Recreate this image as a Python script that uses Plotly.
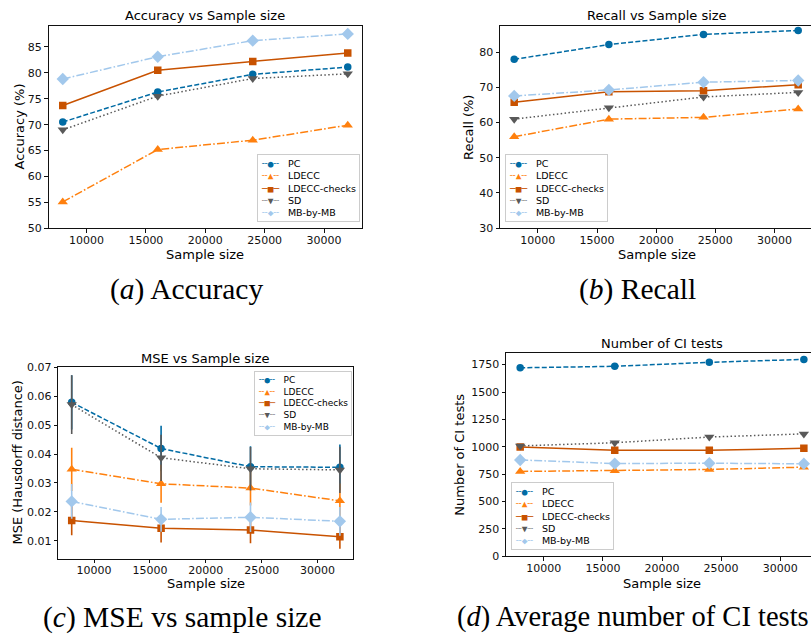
import plotly.graph_objects as go

W, H = 811, 643

# ── data ─────────────────────────────────────────────────────────────────────
SAMPLE_SIZES = [8000, 16000, 24000, 32000]
METHODS = ["PC", "LDECC", "LDECC-checks", "SD", "MB-by-MB"]

ACC_PC     = [70.5, 76.3, 79.7, 81.1]
ACC_LDECC  = [55.1, 65.2, 67.0, 69.9]
ACC_CHECKS = [73.7, 80.5, 82.2, 83.8]
ACC_SD     = [69.0, 75.5, 78.9, 79.8]
ACC_MB     = [78.8, 83.1, 86.2, 87.5]

REC_PC     = [78.0, 82.2, 85.1, 86.2]
REC_LDECC  = [56.0, 61.0, 61.5, 63.9]
REC_CHECKS = [65.8, 68.8, 69.1, 70.8]
REC_SD     = [61.0, 64.2, 67.3, 68.6]
REC_MB     = [67.6, 69.3, 71.5, 72.0]

MSE_PC     = [0.0579, 0.0419, 0.0356, 0.0354]
MSE_LDECC  = [0.0347, 0.0297, 0.0282, 0.0238]
MSE_CHECKS = [0.0170, 0.0143, 0.0137, 0.0114]
MSE_SD     = [0.0571, 0.0387, 0.0349, 0.0345]
MSE_MB     = [0.0236, 0.0174, 0.0181, 0.0167]

MSE_PC_STD     = [0.0094, 0.0079, 0.0071, 0.0079]
MSE_LDECC_STD  = [0.0075, 0.0066, 0.0060, 0.0060]
MSE_CHECKS_STD = [0.0051, 0.0049, 0.0046, 0.0042]
MSE_SD_STD     = [0.0102, 0.0080, 0.0075, 0.0080]
MSE_MB_STD     = [0.0060, 0.0043, 0.0051, 0.0050]

CI_PC     = [1721, 1735, 1771, 1798]
CI_LDECC  = [775, 782, 793, 814]
CI_CHECKS = [999, 968, 968, 986]
CI_SD     = [1008, 1037, 1089, 1118]
CI_MB     = [880, 847, 850, 845]

X_TICKS = [10000, 15000, 20000, 25000, 30000]

# ── styles ───────────────────────────────────────────────────────────────────
COLORS  = {"PC": "#006BA4", "LDECC": "#FF800E", "LDECC-checks": "#C85200",
           "SD": "#595959", "MB-by-MB": "#A2C8EC"}
DASHES  = {"PC": "5px,2.2px", "LDECC": "8px,2.2px,1.6px,2.2px", "LDECC-checks": "solid",
           "SD": "1.5px,2.4px", "MB-by-MB": "8px,2.2px,1.6px,2.2px"}
SYMBOLS = {"PC": ("circle", 7.5), "LDECC": ("triangle-up", 9), "LDECC-checks": ("square", 7.5),
           "SD": ("triangle-down", 9), "MB-by-MB": ("diamond", 9.5)}
# legend swatches, drawn as monospace text so every label lines up
HANDLES = {"PC": "╌●╌", "LDECC": "╌▲╌", "LDECC-checks": "─■─",
           "SD": "┈▼┈", "MB-by-MB": "╌◆╌"}

SANS = "DejaVu Sans"
MONO = "DejaVu Sans Mono"
SERIF = "Liberation Serif"
INK = "#111111"


def px(x):
    return x / W


def py(y):
    return 1 - y / H


# panel boxes in pixels: (left, right, top, bottom), plus axis ranges
PANELS = [
    dict(box=(48.5, 362, 20, 227), xr=[6800, 33200], yr=[50, 89.1],
         yt=[50, 55, 60, 65, 70, 75, 80, 85], fmt="d", full=True),
    dict(box=(500, 811, 20, 226.7), xr=[6800, 33083], yr=[30, 87.6],
         yt=[30, 40, 50, 60, 70, 80], fmt="d", full=False),
    dict(box=(58.3, 353.3, 368.5, 564), xr=[6800, 33200], yr=[0.0038, 0.0701],
         yt=[0.01, 0.02, 0.03, 0.04, 0.05, 0.06, 0.07], fmt=".2f", full=True),
    dict(box=(506, 811, 354.3, 561.7), xr=[6800, 32604], yr=[0, 1855],
         yt=[0, 250, 500, 750, 1000, 1250, 1500, 1750], fmt="d", full=False),
]

SERIES = [
    {"PC": ACC_PC, "LDECC": ACC_LDECC, "LDECC-checks": ACC_CHECKS, "SD": ACC_SD, "MB-by-MB": ACC_MB},
    {"PC": REC_PC, "LDECC": REC_LDECC, "LDECC-checks": REC_CHECKS, "SD": REC_SD, "MB-by-MB": REC_MB},
    {"PC": MSE_PC, "LDECC": MSE_LDECC, "LDECC-checks": MSE_CHECKS, "SD": MSE_SD, "MB-by-MB": MSE_MB},
    {"PC": CI_PC, "LDECC": CI_LDECC, "LDECC-checks": CI_CHECKS, "SD": CI_SD, "MB-by-MB": CI_MB},
]
MSE_STD = {"PC": MSE_PC_STD, "LDECC": MSE_LDECC_STD, "LDECC-checks": MSE_CHECKS_STD,
           "SD": MSE_SD_STD, "MB-by-MB": MSE_MB_STD}

fig = go.Figure()

for i, (panel, series) in enumerate(zip(PANELS, SERIES)):
    n = "" if i == 0 else str(i + 1)
    l, r, t, b = panel["box"]
    fig.update_layout({
        f"xaxis{n}": dict(
            domain=[px(l), px(r)], anchor=f"y{n}", range=panel["xr"],
            tickvals=X_TICKS, tickformat="d", showgrid=False, zeroline=False,
            showline=True, linecolor=INK, linewidth=1, mirror=True,
            ticks="outside", ticklen=3.5, tickcolor=INK, ticklabelstandoff=-2,
            tickfont=dict(family=SANS, size=11, color=INK),
        ),
        f"yaxis{n}": dict(
            domain=[py(b), py(t)], anchor=f"x{n}", range=panel["yr"],
            tickvals=panel["yt"], tickformat=panel["fmt"], showgrid=False, zeroline=False,
            showline=True, linecolor=INK, linewidth=1, mirror=panel["full"],
            ticks="outside", ticklen=3.5, tickcolor=INK,
            tickfont=dict(family=SANS, size=11, color=INK),
        ),
    })
    for m in METHODS:
        sym, size = SYMBOLS[m]
        err = None
        if i == 2:
            err = dict(type="data", array=MSE_STD[m], color=COLORS[m],
                       thickness=1.6, width=0)
        fig.add_trace(go.Scatter(
            x=SAMPLE_SIZES, y=series[m], name=m, mode="lines+markers",
            xaxis=f"x{n}", yaxis=f"y{n}", showlegend=False,
            line=dict(color=COLORS[m], width=1.5, dash=DASHES[m]),
            marker=dict(symbol=sym, size=size, color=COLORS[m], line=dict(width=0)),
            error_y=err,
        ))

# ── text: titles, axis labels, captions, legends ─────────────────────────────
notes = []


def note(text, x, y, size, family=SANS, angle=0, xanchor="center", yanchor="middle"):
    notes.append(dict(text=text, x=px(x), y=py(y), xref="paper", yref="paper",
                      showarrow=False, textangle=angle, xanchor=xanchor, yanchor=yanchor,
                      font=dict(family=family, size=size, color="#000000")))


note("Accuracy vs Sample size", 205, 10, 13)
note("Recall vs Sample size", 656.5, 10, 13)
note("MSE vs Sample size", 205.8, 359.5, 13)
note("Number of CI tests", 662.3, 344.5, 13)

note("Sample size", 205.5, 254, 13)
note("Sample size", 656.5, 254, 13)
note("Sample size", 205.8, 589, 13)
note("Sample size", 662.3, 589.5, 13)

note("Accuracy (%)", 19.5, 123.5, 13, angle=-90)
note("Recall (%)", 468, 123.5, 13, angle=-90)
note("MSE (Hausdorff distance)", 18, 466, 13, angle=-90)
note("Number of CI tests", 460, 458, 13, angle=-90)

note("(<i>a</i>) Accuracy", 186, 289, 29.5, family=SERIF)
note("(<i>b</i>) Recall", 637.5, 289, 29.5, family=SERIF)
note("(<i>c</i>) MSE vs sample size", 182.5, 624, 29.5, family=SERIF)
# slightly smaller so the whole caption stays inside the frame
note("(<i>d</i>) Average number of CI tests", 455, 624, 28.5, family=SERIF, xanchor="left")


def legend_text():
    rows = []
    for m in METHODS:
        rows.append(f"<span style='font-family:{MONO};color:{COLORS[m]}'>{HANDLES[m]}\u00a0</span>\u00a0{m}")
    return "<br>".join(rows)


for (x, y, size) in [(256.7, 150.7, 9.5), (505.3, 150.7, 9.5), (254, 372.3, 9), (510.7, 485.7, 9.5)]:
    notes.append(dict(text=legend_text(), x=px(x), y=py(y), xref="paper", yref="paper",
                      showarrow=False, xanchor="left", yanchor="top", align="left",
                      bgcolor="rgba(255,255,255,0.85)", bordercolor="#cccccc",
                      borderwidth=1, borderpad=3,
                      font=dict(family=SANS, size=size, color="#000000")))

fig.update_layout(
    width=W, height=H,
    margin=dict(l=0, r=0, t=0, b=0),
    paper_bgcolor="white", plot_bgcolor="white",
    showlegend=False,
    annotations=notes,
)

# the page body has a default 8px margin; drop it so the figure sits at 0,0
fig.write_html("out.html", config={"displayModeBar": False},
               post_script="document.body.style.margin='0';")
